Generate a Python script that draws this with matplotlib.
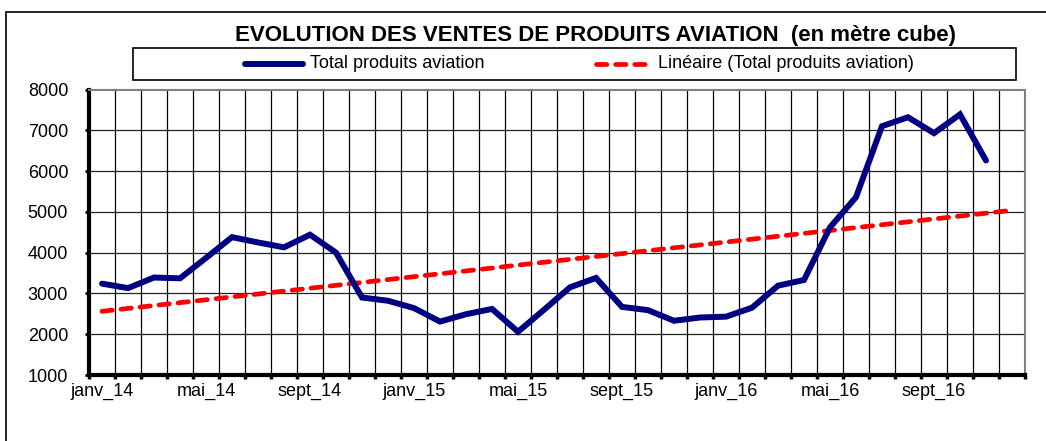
import numpy as np
import matplotlib.pyplot as plt
from matplotlib.patches import Rectangle
from matplotlib.lines import Line2D

plt.rcParams['font.family'] = ['Liberation Sans', 'DejaVu Sans']

# Mois de janv_14 à déc_16
mois = ['janv', 'févr', 'mars', 'avr', 'mai', 'juin',
        'juil', 'août', 'sept', 'oct', 'nov', 'déc']
categories = [m + '_' + a for a in ['14', '15', '16'] for m in mois]

# Ventes mensuelles (m3), janv_14 à nov_16
ventes = [3240, 3130, 3390, 3370, 3870, 4380, 4250, 4130, 4440, 4000, 2900, 2820,
          2640, 2310, 2490, 2620, 2060, 2600, 3150, 3380, 2670, 2590, 2330, 2410,
          2430, 2650, 3190, 3330, 4620, 5360, 7100, 7320, 6930, 7390, 6260]

# Tendance linéaire sur toute la période
x_data = np.arange(len(ventes))
pente, origine = np.polyfit(x_data, ventes, 1)
x_tend = np.arange(len(categories))
tendance = pente * x_tend + origine

fig = plt.figure(figsize=(10.46, 4.41), dpi=100)
ax = fig.add_axes([89 / 1046, 1 - 375 / 441, 936 / 1046, 285.5 / 441])

ax.plot(x_data, ventes, color='#000080', lw=4.3, solid_joinstyle='miter',
        solid_capstyle='round', zorder=4)
ax.plot(x_tend, tendance, color='#ff0000', lw=3.4, dashes=(2.2, 1.85),
        dash_capstyle='round', zorder=3)

ax.set_xlim(-0.5, len(categories) - 0.5)
ax.set_ylim(1000, 8000)
ax.set_yticks(range(1000, 8001, 1000))

# Grille verticale entre les catégories
ax.set_xticks(np.arange(-0.5, len(categories), 1), minor=False)
ax.set_xticklabels([])
for i in range(len(categories) + 1):
    ax.axvline(i - 0.5, color='black', lw=0.9, zorder=1)
for v in range(2000, 8000, 1000):
    ax.axhline(v, color='#202020', lw=0.9, zorder=1)

# Étiquettes tous les 4 mois
for i in range(0, len(categories), 4):
    ax.text(i, 1000 - 200, categories[i], ha='center', va='top', fontsize=13,
            transform=ax.transData, clip_on=False)

ax.tick_params(axis='x', length=3, width=2.5, direction='out', color='black')
ax.tick_params(axis='y', length=3, width=2, direction='out', labelsize=13, pad=12)

for s in ['left', 'bottom']:
    ax.spines[s].set_linewidth(3)
    ax.spines[s].set_color('black')
for s in ['top', 'right']:
    ax.spines[s].set_linewidth(1.5)
    ax.spines[s].set_color('#808080')

# Cadre du graphique
fig.patches.append(Rectangle((6 / 1046, -0.1), 1.1, 1 - 12 / 441 + 0.1,
                             transform=fig.transFigure, fill=False,
                             edgecolor='black', lw=1.2))

fig.text(595 / 1046, 1 - 35 / 441,
         'EVOLUTION DES VENTES DE PRODUITS AVIATION  (en mètre cube)',
         ha='center', va='center', fontsize=16, fontweight='bold')

# Légende
fig.patches.append(Rectangle((133 / 1046, 1 - 80 / 441), (1016 - 133) / 1046, 32 / 441,
                             transform=fig.transFigure, fill=False,
                             edgecolor='black', lw=1.2))
y_leg = 1 - 64 / 441
fig.lines.append(Line2D([245 / 1046, 303 / 1046], [y_leg, y_leg], transform=fig.transFigure,
                        color='#000080', lw=4.3, solid_capstyle='round'))
fig.text(310 / 1046, y_leg, 'Total produits aviation', ha='left', va='center', fontsize=13)
fig.lines.append(Line2D([596 / 1046, 648 / 1046], [y_leg, y_leg], transform=fig.transFigure,
                        color='#ff0000', lw=3.4, dashes=(2.2, 1.85), dash_capstyle='round'))
fig.text(658 / 1046, y_leg, 'Linéaire (Total produits aviation)', ha='left', va='center',
         fontsize=13)

fig.savefig('out.png', dpi=100)
